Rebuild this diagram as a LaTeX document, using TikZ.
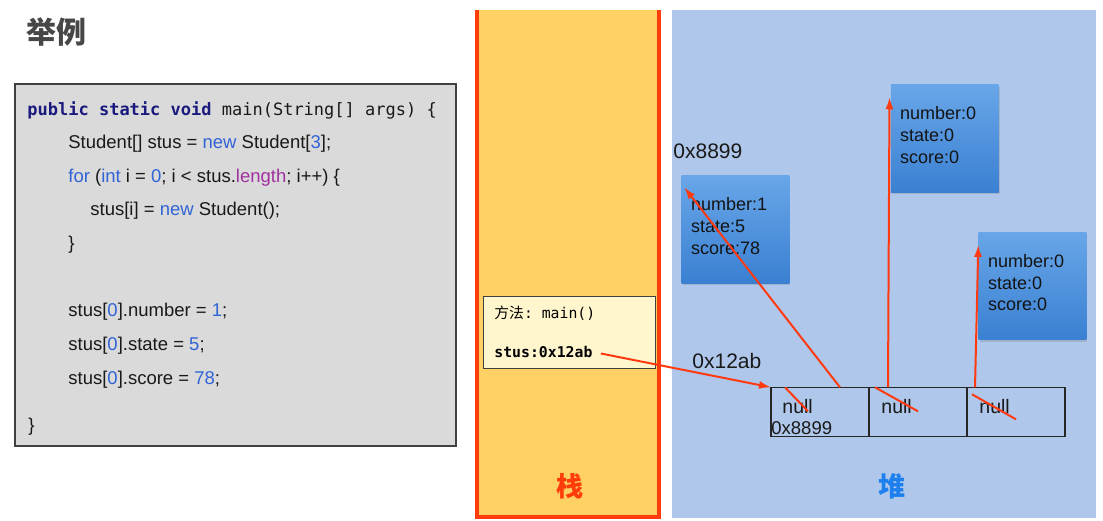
\documentclass[tikz,border=0pt]{standalone}
\usepackage{fontspec}
\setmainfont{Liberation Sans}
\setmonofont{DejaVu Sans Mono}
\newfontfamily\cjk{Noto Sans CJK SC}
\usepackage{xcolor}
\usetikzlibrary{positioning, calc, shadows, arrows.meta}

\definecolor{kwnavy}{HTML}{1A1A7E}
\definecolor{litblue}{HTML}{2F63D6}
\definecolor{fldpurple}{HTML}{A0309F}
\definecolor{stackred}{HTML}{FF3C0A}
\definecolor{stackfill}{HTML}{FFD063}
\definecolor{framefill}{HTML}{FFF6CE}
\definecolor{heapfill}{HTML}{AFC7EA}
\definecolor{heapblue}{HTML}{1E80EE}
\definecolor{objtop}{HTML}{68A6E8}
\definecolor{objbot}{HTML}{3A80D2}
\definecolor{codefill}{HTML}{DADADA}
\definecolor{ptrred}{HTML}{FF3A10}

\newcommand{\kwd}[1]{\textcolor{kwnavy}{\bfseries #1}}
\newcommand{\lit}[1]{\textcolor{litblue}{#1}}
\newcommand{\fld}[1]{\textcolor{fldpurple}{#1}}
\newcommand{\lowpad}{\rule[-7pt]{0pt}{7pt}}

\begin{document}
\begin{tikzpicture}[x=1pt, y=-1pt, thick]
    % Styles
    \tikzstyle{title} = [anchor=base west, inner sep=0pt, text=black!72, font=\cjk\bfseries\fontsize{30}{34}\selectfont]
    \tikzstyle{codebox} = [rectangle, draw=black!75, line width=1.5pt, fill=codefill, minimum width=440.7pt, minimum height=361.7pt]
    \tikzstyle{codeline} = [anchor=base west, inner sep=0pt, text=black!90, font=\fontsize{18.5}{22}\selectfont]
    \tikzstyle{monoline} = [codeline, font=\ttfamily\fontsize{17}{20}\selectfont]
    \tikzstyle{frame} = [rectangle, draw=black!75, line width=1.3pt, fill=framefill, minimum width=172.4pt, minimum height=71.6pt]
    \tikzstyle{monosmall} = [anchor=base west, inner sep=0pt, font=\ttfamily\fontsize{14.8}{17}\selectfont]
    \tikzstyle{obj} = [rectangle, top color=objtop, bottom color=objbot, text width=89pt, inner xsep=9.3pt, minimum height=107.5pt, align=left, text=black!92, font=\fontsize{18}{21.7}\selectfont, drop shadow={opacity=0.3, shadow xshift=1pt, shadow yshift=-2pt}]
    \tikzstyle{cell} = [rectangle, draw=black!85, line width=1.5pt, minimum width=98pt, minimum height=49.4pt, outer sep=0pt]
    \tikzstyle{addr} = [anchor=base west, inner sep=0pt, text=black!90, font=\fontsize{21}{24}\selectfont]
    \tikzstyle{nulltxt} = [anchor=base west, inner sep=0pt, text=black!90, font=\fontsize{19.5}{22}\selectfont]
    \tikzstyle{area} = [inner sep=0pt, font=\cjk\bfseries\fontsize{27}{30}\selectfont]
    \tikzstyle{ptr} = [draw=ptrred, -{Latex[length=12pt,width=8pt]}, line width=2pt]
    \tikzstyle{strike} = [draw=ptrred, line width=2pt]

    \useasboundingbox (0,0) rectangle (1103,520);

    % Stack and heap
    \fill[stackfill] (477,10) rectangle (659,517);
    \draw[stackred, line width=4pt] (477,10) -- (477,517) -- (659,517) -- (659,10);
    \fill[heapfill] (672,10) rectangle (1096,518);
    \node[area, text=stackred] (stacklbl) at (569.5,486) {栈};
    \node[area, text=heapblue] (heaplbl) at (892,486) {堆};

    % Code
    \node[title] (title) at (26,43) {举例};
    \node[codebox] (code) at (235.4,264.9) {};
    \node[monoline] (l1) at (27,115) {\kwd{public static void} main(String[] args) \{};
    \node[codeline] (l2) at (68,148) {Student[] stus = \lit{new} Student[\lit{3}];};
    \node[codeline] (l3) at (68,182) {\lit{for} (\lit{int} i = \lit{0}; i < stus.\fld{length}; i++) \{};
    \node[codeline] (l4) at (90,215) {stus[i] = \lit{new} Student();};
    \node[codeline] (l5) at (68,249) {\}};
    \node[codeline] (l6) at (68,316) {stus[\lit{0}].number = \lit{1};};
    \node[codeline] (l7) at (68,350) {stus[\lit{0}].state = \lit{5};};
    \node[codeline] (l8) at (68,384) {stus[\lit{0}].score = \lit{78};};
    \node[codeline] (l9) at (28,431) {\}};

    % Stack frame
    \node[frame] (frame) at (569.5,332.5) {};
    \node[monosmall] (method) at (494,318) {{\cjk 方法}: main()};
    \node[monosmall, font=\ttfamily\bfseries\fontsize{14.8}{17}\selectfont] (stus) at (494,357) {stus:0x12ab};

    % Heap objects
    \node[obj] (obj1) at (735.5,229.5) {number:1\\state:5\\score:78\lowpad};
    \node[obj] (obj2) at (944.7,138.4) {number:0\\state:0\\score:0\lowpad};
    \node[obj] (obj3) at (1032.5,286) {number:0\\state:0\\score:0\lowpad};
    \node[addr] (addr1) at (673,158) {0x8899};
    \node[addr] (addr2) at (692,368) {0x12ab};

    % Array
    \node[cell] (cell1) at (820,412) {};
    \node[cell, right=0pt of cell1] (cell2) {};
    \node[cell, right=0pt of cell2] (cell3) {};
    \node[nulltxt] (null1) at ($(cell1.north west)+(11,26)$) {null};
    \node[nulltxt] (null2) at ($(cell2.north west)+(12,26)$) {null};
    \node[nulltxt] (null3) at ($(cell3.north west)+(12,26)$) {null};
    \node[codeline] (cellref) at ($(cell1.south west)+(0,-2)$) {0x8899};
    \draw[strike] ($(cell1.north west)+(14,0)$) -- ($(cell1.north west)+(37,24)$);
    \draw[strike] ($(cell2.north west)+(6,0)$) -- ($(cell2.north west)+(49,24)$);
    \draw[strike] ($(cell3.north west)+(5,7)$) -- ($(cell3.north west)+(49,32)$);

    % Edges
    \draw[ptr] ($(stus.east)+(8,2)$) -- (cell1.north west);
    \draw[ptr] ($(cell1.north)+(20,0)$) -- ($(obj1.north west)+(3,12)$);
    \draw[ptr] ($(cell2.north west)+(19,0)$) -- ($(obj2.north west)+(-1,13)$);
    \draw[ptr] ($(cell3.north west)+(8,0)$) -- ($(obj3.north west)+(0,13)$);
\end{tikzpicture}
\end{document}
